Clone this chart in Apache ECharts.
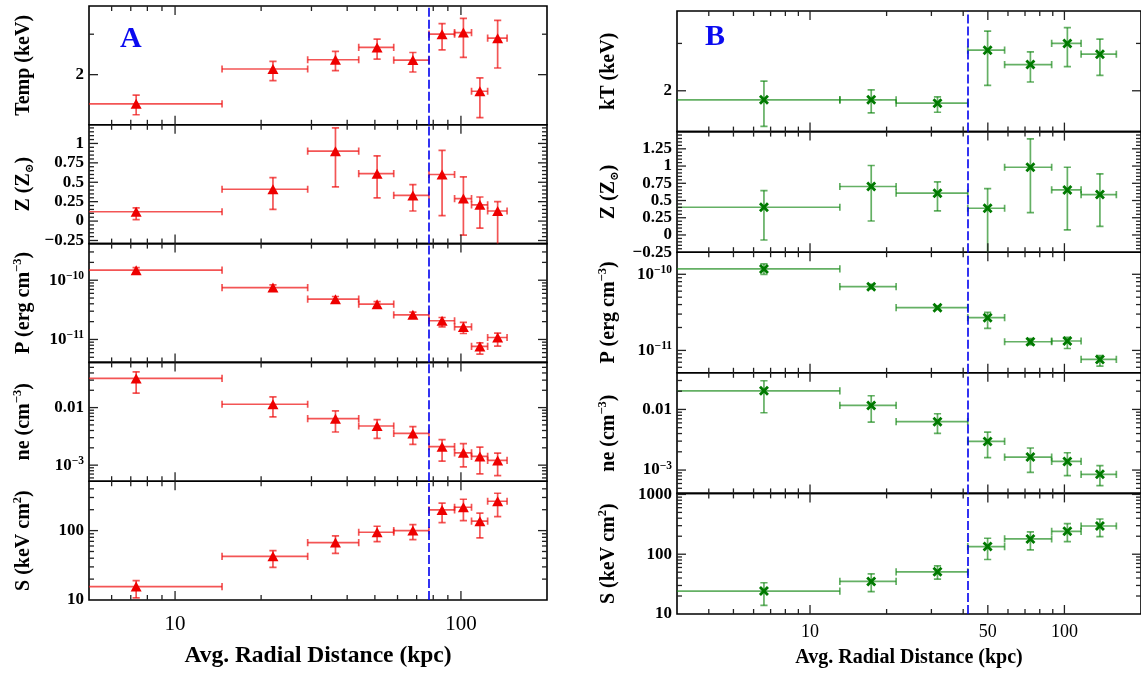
<!DOCTYPE html>
<html><head><meta charset="utf-8">
<script src="https://cdn.jsdelivr.net/npm/echarts@6.0.0/dist/echarts.min.js"></script>
<style>html,body{margin:0;padding:0;background:#fff}#c{width:1141px;height:675px}</style>
</head><body><div id="c"></div>
<script>
// ================= DATA =================
// Panel A (red triangles): radial bins (kpc)
const rA    = [7.31, 22.0, 36.4, 50.9, 67.9, 85.9, 102, 116.5, 134.4];
const rA_lo = [3, 14.6, 29.1, 43.9, 58.2, 77.3, 95, 108.9, 124];
const rA_hi = [14.6, 29.1, 43.9, 58.2, 77.3, 95, 108.9, 124, 145];
const cutA  = 77.3;
const tempA    = [1.493, 2.117, 2.322, 2.627, 2.315, 3.0, 3.05, 1.694, 2.882];
const tempA_hi = [1.628, 2.284, 2.524, 2.854, 2.498, 3.336, 3.518, 1.935, 3.448];
const tempA_lo = [1.338, 1.884, 2.082, 2.338, 2.054, 2.566, 2.377, 1.299, 2.138];
const zA    = [0.12, 0.41, 0.90, 0.61, 0.33, 0.60, 0.29, 0.21, 0.13];
const zA_hi = [0.17, 0.56, 1.20, 0.84, 0.47, 0.91, 0.57, 0.31, 0.25];
const zA_lo = [0.02, 0.15, 0.44, 0.30, 0.13, 0.07, -0.18, -0.09, -0.35];
const pA    = [1.475e-10, 7.52e-11, 4.78e-11, 3.94e-11, 2.61e-11, 2.07e-11, 1.63e-11, 7.62e-12, 1.08e-11];
const pA_hi = [1.63e-10, 8.34e-11, 5.31e-11, 4.36e-11, 2.89e-11, 2.35e-11, 1.94e-11, 8.79e-12, 1.28e-11];
const pA_lo = [1.35e-10, 6.87e-11, 4.26e-11, 3.56e-11, 2.35e-11, 1.63e-11, 1.26e-11, 5.66e-12, 7.73e-12];
const neA    = [0.0321, 0.01143, 6.43e-3, 4.79e-3, 3.56e-3, 2.09e-3, 1.64e-3, 1.42e-3, 1.21e-3];
const neA_hi = [0.0419, 0.01535, 8.75e-3, 6.18e-3, 4.67e-3, 2.77e-3, 2.36e-3, 2.06e-3, 1.62e-3];
const neA_lo = [0.0178, 6.88e-3, 3.77e-3, 2.92e-3, 2.29e-3, 1.17e-3, 9.35e-4, 7.06e-4, 6.6e-4];
const sA    = [15.6, 42.6, 67.2, 94.6, 100, 198.7, 217, 136.5, 265];
const sA_hi = [19.0, 51.5, 83.8, 115.5, 122, 248, 283, 178, 345];
const sA_lo = [10.7, 29.6, 47.1, 69.3, 74.2, 130.5, 139.5, 78.3, 159];

// Panel B (green crosses)
const rB    = [6.59, 17.4, 31.7, 49.9, 73.5, 102.7, 137.9];
const rB_lo = [2, 13.1, 21.8, 41.7, 58.2, 89.1, 116.3];
const rB_hi = [13.1, 21.8, 41.7, 58.2, 89.1, 116.3, 160];
const cutB  = 41.7;
const tempB    = [1.851, 1.851, 1.798, 2.832, 2.503, 3.0, 2.736];
const tempB_hi = [2.174, 2.017, 1.899, 3.336, 2.792, 3.434, 3.114];
const tempB_lo = [1.475, 1.654, 1.664, 2.094, 2.156, 2.46, 2.282];
const zB    = [0.402, 0.703, 0.606, 0.388, 0.983, 0.654, 0.586];
const zB_hi = [0.644, 1.008, 0.770, 0.673, 1.395, 0.983, 0.887];
const zB_lo = [-0.073, 0.203, 0.349, -0.30, 0.325, 0.073, 0.126];
const pB    = [1.175e-10, 6.88e-11, 3.64e-11, 2.69e-11, 1.30e-11, 1.33e-11, 7.61e-12];
const pB_hi = [1.368e-10, 7.39e-11, 3.83e-11, 3.16e-11, 1.43e-11, 1.48e-11, 8.52e-12];
const pB_lo = [1.0e-10, 6.41e-11, 3.46e-11, 1.95e-11, 1.19e-11, 1.06e-11, 6.22e-12];
const neB    = [0.0203, 0.01164, 6.27e-3, 2.97e-3, 1.64e-3, 1.39e-3, 8.49e-4];
const neB_hi = [0.0297, 0.0168, 8.48e-3, 4.22e-3, 2.31e-3, 1.93e-3, 1.18e-3];
const neB_lo = [8.81e-3, 6.18e-3, 4.02e-3, 1.6e-3, 9.16e-4, 8.07e-4, 5.52e-4];
const sB    = [24.2, 35.0, 50.8, 134.3, 180, 241.8, 296.5];
const sB_hi = [33.3, 47.0, 63.9, 185, 235.5, 324, 388];
const sB_lo = [13.9, 23.6, 38.3, 81.5, 118, 162.6, 196.8];

// Tick labels
const xLabA = [10, 100];
const xLabB = [10, 50, 100];
const xMajA = [10, 100];
const xMajB = [10, 50, 100];
const tLab = [2], tLabTxt = ['2'], tMinor = [3];
const zLabA = [-0.25, 0, 0.25, 0.5, 0.75, 1], zLabTxtA = ['\u22120.25', '0', '0.25', '0.5', '0.75', '1'];
const zLabB = [-0.25, 0, 0.25, 0.5, 0.75, 1, 1.25], zLabTxtB = ['\u22120.25', '0', '0.25', '0.5', '0.75', '1', '1.25'];
const pLab = [1e-11, 1e-10], pLabTxt = ['{n|10}{s|\u221211}', '{n|10}{s|\u221210}'];
const nLab = [1e-3, 1e-2], nLabTxt = ['{n|10}{s|\u22123}', '0.01'];
const sLabA = [10, 100], sLabTxtA = ['10', '100'];
const sLabB = [10, 100, 1000], sLabTxtB = ['10', '100', '1000'];

// ================= HELPERS =================
const FONT = '"Liberation Serif","DejaVu Serif",serif';
function logMinors(lo, hi, skip) {
  const out = [];
  for (let e = Math.floor(Math.log10(lo)) - 1; e <= Math.ceil(Math.log10(hi)); e++)
    for (let m = 2; m <= 9; m++) {
      const v = +(m * Math.pow(10, e)).toPrecision(6);
      if (v > lo && v < hi && !(skip || []).some(s => Math.abs(s - v) / v < 1e-6)) out.push(v);
    }
  return out;
}
function linMinors(lo, hi, step, skip) {
  const out = [];
  for (let k = Math.ceil(lo / step); k * step <= hi; k++) {
    const v = +(k * step).toFixed(4);
    if (!skip.some(s => Math.abs(s - v) < 1e-6)) out.push(v);
  }
  return out;
}
function nearestText(vals, txts, log) {
  return function (v) {
    let best = 0, bd = Infinity;
    vals.forEach((u, i) => {
      const d = log ? Math.abs(Math.log10(v) - Math.log10(u)) : Math.abs(v - u);
      if (d < bd) { bd = d; best = i; }
    });
    return txts[best];
  };
}
const nameRich = {
  t: { fontFamily: FONT, fontWeight: 'bold', fontSize: 20, color: '#000', lineHeight: 25 },
  s: { fontFamily: FONT, fontWeight: 'bold', fontSize: 12.5, color: '#000', lineHeight: 12, verticalAlign: 'top' },
  b: { fontFamily: '"DejaVu Serif",serif', fontWeight: 'bold', fontSize: 11.5, color: '#000', lineHeight: 11, verticalAlign: 'bottom' }
};
const labRich = {
  n: { fontFamily: FONT, fontWeight: 'bold', fontSize: 17, color: '#000', lineHeight: 21 },
  s: { fontFamily: FONT, fontWeight: 'bold', fontSize: 11.5, color: '#000', lineHeight: 11, verticalAlign: 'top' }
};

function errRender(color, lw, cap) {
  return function (params, api) {
    const x = api.value(0), y = api.value(1);
    const pc = api.coord([x, y]);
    const pl = api.coord([api.value(2), y]), pr = api.coord([api.value(3), y]);
    const pb = api.coord([x, api.value(4)]), pt = api.coord([x, api.value(5)]);
    const st = { stroke: color, lineWidth: lw, fill: null };
    const L = (x1, y1, x2, y2) => ({ type: 'line', shape: { x1, y1, x2, y2 }, style: st });
    return { type: 'group', children: [
      L(pl[0], pc[1], pr[0], pc[1]),
      L(pl[0], pc[1] - cap, pl[0], pc[1] + cap),
      L(pr[0], pc[1] - cap, pr[0], pc[1] + cap),
      L(pc[0], pb[1], pc[0], pt[1]),
      L(pc[0] - cap, pb[1], pc[0] + cap, pb[1]),
      L(pc[0] - cap, pt[1], pc[0] + cap, pt[1])
    ] };
  };
}
function tickRender(params, api) {
  const cs = params.coordSys;
  const kind = api.value(2);
  const p = api.coord([api.value(0), api.value(1)]);
  const st = { stroke: '#222', lineWidth: 1.3 };
  const L = (x1, y1, x2, y2) => ({ type: 'line', shape: { x1, y1, x2, y2 }, style: st });
  if (kind < 2) {
    if (p[0] < cs.x + 1 || p[0] > cs.x + cs.width - 1) return null;
    const len = kind === 0 ? 9 : 5;
    const yb = cs.y + cs.height, yt = cs.y;
    return { type: 'group', children: [L(p[0], yb, p[0], yb - len), L(p[0], yt, p[0], yt + len)] };
  } else {
    if (p[1] < cs.y + 1 || p[1] > cs.y + cs.height - 1) return null;
    const len = kind === 2 ? 9 : 5;
    const xl = cs.x, xr = cs.x + cs.width;
    return { type: 'group', children: [L(xl, p[1], xl + len, p[1]), L(xr, p[1], xr - len, p[1])] };
  }
}

// ================= COLUMNS =================
const colA = {
  left: 89, width: 458, top: 6, h: 118.8, xmin: 5, xmax: 200,
  r: rA, rlo: rA_lo, rhi: rA_hi, cut: cutA, xLab: xLabA, xMaj: xMajA,
  xLabelSize: 21, xLabelMargin: 14, xNameGap: 44, xNameSize: 23.5, yNameGap: 53,
  color: 'rgba(238,20,20,0.72)', mark: { symbol: 'triangle', size: [11, 10], color: '#ee0000' },
  panels: [
    { name: '{t|Temp (keV)}', log: true, min: 1.21, max: 3.98, y: tempA, lo: tempA_lo, hi: tempA_hi, lab: tLab, txt: tLabTxt, maj: tLab, min2: tMinor },
    { name: '{t|Z (Z}{b|\u2299}{t|)}', log: false, min: -0.29, max: 1.24, y: zA, lo: zA_lo, hi: zA_hi, lab: zLabA, txt: zLabTxtA, maj: zLabA, step: 0.05 },
    { name: '{t|P (erg cm}{s|\u22123}{t|)}', log: true, min: 4.1e-12, max: 4.15e-10, y: pA, lo: pA_lo, hi: pA_hi, lab: pLab, txt: pLabTxt, maj: pLab },
    { name: '{t|ne (cm}{s|\u22123}{t|)}', log: true, min: 5.26e-4, max: 0.061, y: neA, lo: neA_lo, hi: neA_hi, lab: nLab, txt: nLabTxt, maj: nLab },
    { name: '{t|S (keV cm}{s|2}{t|)}', log: true, min: 10, max: 515, y: sA, lo: sA_lo, hi: sA_hi, lab: sLabA, txt: sLabTxtA, maj: sLabA }
  ]
};
const colB = {
  left: 677, width: 467, top: 11, h: 120.6, xmin: 3, xmax: 200,
  r: rB, rlo: rB_lo, rhi: rB_hi, cut: cutB, xLab: xLabB, xMaj: xMajB,
  xLabelSize: 18, xLabelMargin: 9, xNameGap: 34, xNameSize: 20, yNameGap: 56,
  color: 'rgba(20,135,20,0.66)', mark: { symbol: 'path://M0,2 L2,0 L5,3 L8,0 L10,2 L7,5 L10,8 L8,10 L5,7 L2,10 L0,8 L3,5 Z', size: 10, color: '#007a00' },
  panels: [
    { name: '{t|kT (keV)}', log: true, min: 1.41, max: 3.96, y: tempB, lo: tempB_lo, hi: tempB_hi, lab: tLab, txt: tLabTxt, maj: tLab, min2: tMinor },
    { name: '{t|Z (Z}{b|\u2299}{t|)}', log: false, min: -0.25, max: 1.5, y: zB, lo: zB_lo, hi: zB_hi, lab: zLabB, txt: zLabTxtB, maj: zLabB, step: 0.05 },
    { name: '{t|P (erg cm}{s|\u22123}{t|)}', log: true, min: 5.08e-12, max: 1.95e-10, y: pB, lo: pB_lo, hi: pB_hi, lab: pLab, txt: pLabTxt, maj: pLab },
    { name: '{t|ne (cm}{s|\u22123}{t|)}', log: true, min: 4.12e-4, max: 0.0402, y: neB, lo: neB_lo, hi: neB_hi, lab: nLab, txt: nLabTxt, maj: nLab },
    { name: '{t|S (keV cm}{s|2}{t|)}', log: true, min: 10, max: 1040, y: sB, lo: sB_lo, hi: sB_hi, lab: sLabB, txt: sLabTxtB, maj: sLabB }
  ]
};

const grids = [], xAxes = [], yAxes = [], series = [];
function addColumn(col) {
  const n = col.panels.length;
  const xMin = logMinors(col.xmin, col.xmax, col.xMaj);
  col.panels.forEach((p, i) => {
    const idx = grids.length;
    const last = i === n - 1;
    grids.push({ left: col.left, width: col.width, top: col.top + i * col.h, height: col.h,
      show: true, borderColor: '#000', borderWidth: 1.6, backgroundColor: 'transparent' });
    xAxes.push({
      type: 'log', logBase: 10, gridIndex: idx, min: col.xmin, max: col.xmax,
      axisLine: { show: false }, axisTick: { show: false }, splitLine: { show: false }, minorTick: { show: false },
      axisLabel: { show: last, customValues: col.xLab, formatter: v => String(Math.round(v)),
        fontFamily: FONT, fontSize: col.xLabelSize, color: '#000', margin: col.xLabelMargin },
      name: last ? 'Avg. Radial Distance (kpc)' : '', nameLocation: 'middle', nameGap: col.xNameGap,
      nameTextStyle: { fontFamily: FONT, fontWeight: 'bold', fontSize: col.xNameSize, color: '#000' }
    });
    yAxes.push({
      type: p.log ? 'log' : 'value', logBase: 10, gridIndex: idx, min: p.min, max: p.max,
      axisLine: { show: false }, axisTick: { show: false }, splitLine: { show: false }, minorTick: { show: false },
      axisLabel: { customValues: p.lab, formatter: nearestText(p.lab, p.txt, p.log),
        fontFamily: FONT, fontWeight: 'bold', fontSize: 17, color: '#000', margin: 5, rich: labRich },
      name: p.name, nameLocation: 'middle', nameRotate: 90, nameGap: col.yNameGap,
      nameTextStyle: { rich: nameRich }
    });
    // error bars
    const eb = p.y.map((v, k) => [col.r[k], v, col.rlo[k], col.rhi[k], p.lo[k], p.hi[k]]);
    series.push({ type: 'custom', xAxisIndex: idx, yAxisIndex: idx, clip: true, z: 3,
      renderItem: errRender(col.color, 1.7, 3.6), encode: { x: 0, y: 1 }, data: eb, silent: true });
    // markers + cut line
    series.push({ type: 'scatter', xAxisIndex: idx, yAxisIndex: idx, z: 4, clip: true,
      symbol: col.mark.symbol, symbolSize: col.mark.size, itemStyle: { color: col.mark.color, opacity: 1 },
      data: p.y.map((v, k) => [col.r[k], v]), silent: true,
      markLine: { silent: true, symbol: ['none', 'none'], label: { show: false }, animation: false, z: 5,
        lineStyle: { color: '#0000ee', width: 1.6, type: [9, 3], opacity: 1 },
        emphasis: { disabled: true }, data: [{ xAxis: col.cut }] } });
    // ticks
    const yRef = p.max, xRef = col.xmax;
    const yMinor = p.log ? logMinors(p.min, p.max, p.maj) : linMinors(p.min, p.max, p.step, p.maj);
    const yMinorUse = p.min2 ? p.min2 : yMinor;
    const td = [];
    col.xMaj.forEach(v => td.push([v, yRef, 0]));
    xMin.forEach(v => td.push([v, yRef, 1]));
    p.maj.forEach(v => td.push([xRef, v, 2]));
    yMinorUse.forEach(v => td.push([xRef, v, 3]));
    series.push({ type: 'custom', xAxisIndex: idx, yAxisIndex: idx, clip: false, z: 6,
      renderItem: tickRender, encode: { x: 0, y: 1 }, data: td, silent: true });
  });
}
addColumn(colA);
addColumn(colB);

const chart = echarts.init(document.getElementById('c'));
chart.setOption({
  animation: false,
  backgroundColor: '#fff',
  grid: grids, xAxis: xAxes, yAxis: yAxes, series: series,
  graphic: [
    { type: 'text', left: 120, top: 24, style: { text: 'A', fontFamily: FONT, fontWeight: 'bold', fontSize: 30, fill: '#0a0af0' } },
    { type: 'text', left: 705, top: 22, style: { text: 'B', fontFamily: FONT, fontWeight: 'bold', fontSize: 30, fill: '#0a0af0' } }
  ]
});
</script></body></html>
